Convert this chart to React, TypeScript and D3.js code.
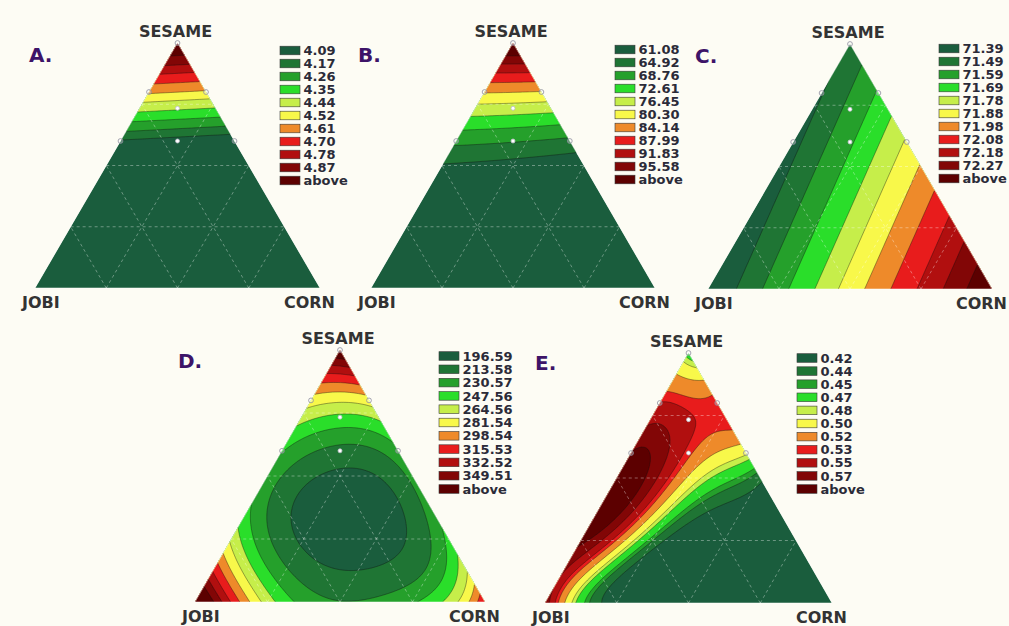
import React, { useMemo } from "react";
import * as d3 from "d3";

// band colours, lowest band first, last one is "above"
const bandColors = [
  "#1a5d3d", "#1f7534", "#25a02b", "#2ade2a", "#c6ee4a", "#f8f84a",
  "#ee8a2a", "#e81c1c", "#b10f0f", "#820606", "#5c0000",
];

const levelsA = [4.09, 4.17, 4.26, 4.35, 4.44, 4.52, 4.61, 4.7, 4.78, 4.87];
const levelsB = [61.08, 64.92, 68.76, 72.61, 76.45, 80.3, 84.14, 87.99, 91.83, 95.58];
const levelsC = [71.39, 71.49, 71.59, 71.69, 71.78, 71.88, 71.98, 72.08, 72.18, 72.27];
const levelsD = [196.59, 213.58, 230.57, 247.56, 264.56, 281.54, 298.54, 315.53, 332.52, 349.51];
const levelsE = [0.42, 0.44, 0.45, 0.47, 0.48, 0.5, 0.52, 0.53, 0.55, 0.57];

// readings: [jobi, corn, sesame, response]
const readingsA = [
  [0.396, 0, 0.604, 4.09], [0.194, 0.194, 0.612, 4.09], [0, 0.376, 0.624, 4.09],
  [0.24, 0, 0.76, 4.44], [0.1165, 0.1165, 0.767, 4.44], [0, 0.22, 0.78, 4.44],
  [0.0585, 0.0585, 0.883, 4.7], [0.0315, 0.0315, 0.937, 4.87],
];

const readingsB = [
  [0.49, 0, 0.51, 61.08], [0.4, 0, 0.6, 64.92], [0.352, 0, 0.648, 68.76], [0.31, 0, 0.69, 72.61],
  [0.265, 0, 0.735, 76.45], [0.215, 0, 0.785, 80.3], [0.165, 0, 0.835, 84.14], [0.115, 0, 0.885, 87.99],
  [0.075, 0, 0.925, 91.83], [0.04, 0, 0.96, 95.58],
  [0, 0.402, 0.598, 61.08], [0, 0.358, 0.642, 64.92], [0, 0.317, 0.683, 68.76], [0, 0.283, 0.717, 72.61],
  [0, 0.249, 0.751, 76.45], [0, 0.209, 0.791, 80.3], [0, 0.175, 0.825, 84.14], [0, 0.14, 0.86, 87.99],
  [0, 0.1, 0.9, 91.83], [0, 0.06, 0.94, 95.58], [0, 0, 1, 100],
  [0.222, 0.222, 0.556, 61.08], [0.1055, 0.1055, 0.789, 80.3],
  [1, 0, 0, 50], [0, 1, 0, 50], [0.5, 0.5, 0, 50], [0.7, 0, 0.3, 54], [0, 0.7, 0.3, 54],
  [0.35, 0.35, 0.3, 54], [0.55, 0, 0.45, 58.5], [0, 0.55, 0.45, 55], [0.275, 0.275, 0.45, 57],
];

const readingsC = [
  [0.906, 0.094, 0, 71.39], [0.535, 0.465, 0, 71.78], [0.082, 0.918, 0, 72.27],
  [0, 0.167, 0.833, 71.59], [0, 0.495, 0.505, 71.88], [0, 0.89, 0.11, 72.27],
  [0.09, 0.011, 0.9, 71.39],
];

const readingsD = [
  [1, 0, 0, 385], [0, 1, 0, 312], [0, 0, 1, 368],
  [0.3, 0.37, 0.33, 186], [0.36, 0.3, 0.34, 188], [0.25, 0.45, 0.3, 188],
  [0.494, 0.154, 0.352, 196.59], [0.22, 0.22, 0.56, 196.59], [0.104, 0.563, 0.333, 196.59], [0.402, 0.492, 0.106, 196.59],
  [0.221, 0.613, 0.166, 196.59], [0.353, 0.124, 0.523, 196.59], [0.084, 0.406, 0.51, 196.59], [0.537, 0.284, 0.179, 196.59],
  [0.558, 0.09, 0.352, 213.58], [0.187, 0.187, 0.626, 213.58], [0.057, 0.657, 0.286, 213.58], [0.446, 0.535, 0.019, 213.58],
  [0.159, 0.159, 0.682, 230.57], [0.1345, 0.1345, 0.731, 247.56], [0.1085, 0.1085, 0.783, 264.56],
  [0.082, 0.082, 0.836, 281.54], [0.064, 0.064, 0.872, 298.54], [0.0475, 0.0475, 0.905, 315.53],
  [0.0345, 0.0345, 0.931, 332.52], [0.018, 0.018, 0.964, 349.51],
  [0.927, 0, 0.073, 349.51], [0.894, 0, 0.106, 332.52], [0.875, 0, 0.125, 315.53], [0.848, 0, 0.152, 298.54],
  [0.822, 0, 0.178, 281.54], [0.775, 0, 0.225, 264.56], [0.723, 0, 0.277, 247.56], [0.55, 0, 0.45, 236],
  [0.28, 0, 0.72, 247.56], [0.23, 0, 0.77, 264.56], [0.174, 0, 0.826, 281.54], [0.135, 0, 0.865, 298.54],
  [0.09, 0, 0.91, 315.53], [0.06, 0, 0.94, 332.52], [0.036, 0, 0.964, 349.51],
  [0.937, 0.063, 0, 349.51], [0.902, 0.098, 0, 332.52], [0.874, 0.126, 0, 315.53], [0.845, 0.155, 0, 298.54],
  [0.816, 0.184, 0, 281.54], [0.77, 0.23, 0, 264.56], [0.724, 0.276, 0, 247.56], [0.672, 0.328, 0, 230.57],
  [0.5, 0.5, 0, 218],
  [0.19, 0.81, 0, 230.57], [0.15, 0.85, 0, 247.56], [0.103, 0.897, 0, 264.56], [0.06, 0.94, 0, 281.54],
  [0.029, 0.971, 0, 298.54],
  [0, 0.728, 0.272, 230.57], [0, 0.814, 0.186, 247.56], [0, 0.874, 0.126, 264.56], [0, 0.926, 0.074, 281.54],
  [0, 0.964, 0.036, 298.54], [0, 0.57, 0.43, 222],
  [0, 0.4, 0.6, 230.57], [0, 0.28, 0.72, 247.56], [0, 0.225, 0.775, 264.56], [0, 0.17, 0.83, 281.54],
];

const readingsE = [
  [1, 0, 0, 0.565], [0.96, 0.04, 0, 0.53], [0.925, 0.075, 0, 0.49], [0.88, 0.12, 0, 0.46],
  [0.83, 0.17, 0, 0.43], [0.786, 0.214, 0, 0.42], [0.6, 0.4, 0, 0.39], [0.3, 0.7, 0, 0.37], [0, 1, 0, 0.37],
  [0.8, 0, 0.2, 0.565], [0.715, 0.085, 0.2, 0.53], [0.675, 0.125, 0.2, 0.5], [0.628, 0.172, 0.2, 0.47],
  [0.588, 0.212, 0.2, 0.44], [0.559, 0.241, 0.2, 0.42], [0.3, 0.5, 0.2, 0.38], [0, 0.8, 0.2, 0.37],
  [0.65, 0.05, 0.3, 0.58], [0.5, 0.05, 0.45, 0.585], [0.35, 0.05, 0.6, 0.575],
  [0.6, 0, 0.4, 0.585], [0.505, 0.095, 0.4, 0.57], [0.447, 0.153, 0.4, 0.55], [0.419, 0.181, 0.4, 0.53],
  [0.378, 0.222, 0.4, 0.5], [0.332, 0.268, 0.4, 0.47], [0.286, 0.314, 0.4, 0.44], [0.251, 0.349, 0.4, 0.42],
  [0, 0.6, 0.4, 0.39],
  [0.4, 0, 0.6, 0.57], [0.3, 0.1, 0.6, 0.555], [0.2, 0.2, 0.6, 0.526], [0.14, 0.26, 0.6, 0.522],
  [0.08, 0.32, 0.6, 0.505], [0.03, 0.37, 0.6, 0.49], [0, 0.4, 0.6, 0.477],
  [0, 0.32, 0.68, 0.52], [0, 0.367, 0.633, 0.5], [0, 0.42, 0.58, 0.47], [0, 0.48, 0.52, 0.44], [0, 0.5, 0.5, 0.42],
  [0.133, 0.133, 0.734, 0.525], [0.07, 0.2, 0.73, 0.524], [0.22, 0.08, 0.7, 0.54],
  [0.25, 0, 0.75, 0.55], [0.2, 0, 0.8, 0.53], [0.1, 0.1, 0.8, 0.525], [0, 0.2, 0.8, 0.524],
  [0.1, 0, 0.9, 0.505], [0.05, 0.05, 0.9, 0.5], [0, 0.1, 0.9, 0.5],
  [0.025, 0.025, 0.95, 0.48], [0, 0, 1, 0.46],
];

// mixture design points drawn on every plot
const designPoints = [
  [0, 0, 1], [0.2, 0, 0.8], [0, 0.2, 0.8], [0.4, 0, 0.6], [0, 0.4, 0.6],
  [0.1333, 0.1333, 0.7334], [0.2, 0.2, 0.6],
];

const gridSteps = [0.25, 0.5, 0.75];

const panels = [
  { letter: "A.", levels: levelsA, readings: readingsA, degree: 1, xL: 35, xR: 320, yB: 288, yA: 43, lgX: 280, lgY: 50.5, pitch: 13, ltX: 29, ltY: 62 },
  { letter: "B.", levels: levelsB, readings: readingsB, degree: 3, xL: 371, xR: 655, yB: 288, yA: 43, lgX: 615, lgY: 49.5, pitch: 13, ltX: 358, ltY: 62 },
  { letter: "C.", levels: levelsC, readings: readingsC, degree: 1, xL: 708, xR: 992, yB: 289, yA: 44, lgX: 939, lgY: 48.5, pitch: 13, ltX: 695, ltY: 63 },
  { letter: "D.", levels: levelsD, readings: readingsD, degree: 5, xL: 195, xR: 485, yB: 602, yA: 350, lgX: 439, lgY: 356, pitch: 13.3, ltX: 178, ltY: 368 },
  { letter: "E.", levels: levelsE, readings: readingsE, degree: 5, xL: 545, xR: 832, yB: 603, yA: 353, lgX: 797, lgY: 358, pitch: 13.1, ltX: 535, ltY: 370 },
];

const monomials = (j, c, s, deg) => {
  const out = [];
  for (let a = deg; a >= 0; a--)
    for (let b = deg - a; b >= 0; b--) out.push(j ** a * c ** b * s ** (deg - a - b));
  return out;
};

const solve = (A, b) => {
  const n = b.length;
  const M = A.map((row, i) => [...row, b[i]]);
  for (let i = 0; i < n; i++) {
    let p = i;
    for (let r = i + 1; r < n; r++) if (Math.abs(M[r][i]) > Math.abs(M[p][i])) p = r;
    [M[i], M[p]] = [M[p], M[i]];
    for (let r = 0; r < n; r++) {
      if (r === i) continue;
      const f = M[r][i] / M[i][i];
      for (let k = i; k <= n; k++) M[r][k] -= f * M[i][k];
    }
  }
  return M.map((row, i) => row[n] / row[i]);
};

// least squares fit of a mixture polynomial to the readings
const fitModel = (readings, deg) => {
  const rows = readings.map(([j, c, s, v]) => {
    const t = j + c + s;
    return [j / t, c / t, s / t, v];
  });
  const mean = d3.mean(rows, (r) => r[3]);
  const X = rows.map((r) => monomials(r[0], r[1], r[2], deg));
  const p = X[0].length;
  const A = Array.from({ length: p }, () => new Array(p).fill(0));
  const b = new Array(p).fill(0);
  X.forEach((x, r) => {
    const y = rows[r][3] - mean;
    for (let i = 0; i < p; i++) {
      b[i] += x[i] * y;
      for (let k = 0; k < p; k++) A[i][k] += x[i] * x[k];
    }
  });
  for (let i = 0; i < p; i++) A[i][i] += 1e-6;
  const beta = solve(A, b);
  return (j, c, s) => mean + d3.sum(monomials(j, c, s, deg), (m, i) => m * beta[i]);
};

const N = 121;
const font = "'DejaVu Sans', Verdana, sans-serif";

const Ternary = ({ cfg, id }) => {
  const { xL, xR, yB, yA, levels } = cfg;
  const W = xR - xL;
  const H = yB - yA;
  const proj = (j, c, s) => [xL + W * (c + s / 2), yB - H * s];

  const bands = useMemo(() => {
    const model = fitModel(cfg.readings, cfg.degree);
    const values = new Array(N * N);
    for (let k = 0; k < N; k++)
      for (let i = 0; i < N; i++) {
        let c = i / (N - 1);
        let s = k / (N - 1);
        if (c + s > 1) {
          const e = (c + s - 1) / 2;
          c -= e;
          s -= e;
        }
        values[k * N + i] = model(1 - c - s, c, s);
      }
    const contours = d3.contours().size([N, N]).thresholds(levels)(values);
    return contours.map((mp) =>
      mp.coordinates
        .map((poly) =>
          poly
            .map(
              (ring) =>
                "M" +
                ring
                  .map(([px, py]) => {
                    const c = (px - 0.5) / (N - 1);
                    const s = (py - 0.5) / (N - 1);
                    const [x, y] = proj(1 - c - s, c, s);
                    return `${x.toFixed(2)},${y.toFixed(2)}`;
                  })
                  .join("L") +
                "Z"
            )
            .join("")
        )
        .join("")
    );
  }, [cfg]);

  const tri = [proj(1, 0, 0), proj(0, 1, 0), proj(0, 0, 1)];
  const triPts = tri.map((p) => p.join(",")).join(" ");
  const gridLines = gridSteps.flatMap((k) => [
    [proj(1 - k, 0, k), proj(0, 1 - k, k)],
    [proj(1 - k, k, 0), proj(0, k, 1 - k)],
    [proj(k, 1 - k, 0), proj(k, 0, 1 - k)],
  ]);
  const ax = (xL + xR) / 2;

  return (
    <g>
      <defs>
        <clipPath id={`clip-${id}`}>
          <polygon points={triPts} />
        </clipPath>
      </defs>
      <g clipPath={`url(#clip-${id})`}>
        <polygon points={triPts} fill={bandColors[0]} />
        {bands.map((d, i) => (
          <path key={i} d={d} fill={bandColors[i + 1]} fillRule="evenodd"
            stroke="rgba(15,15,15,0.55)" strokeWidth={0.7} />
        ))}
        {gridLines.map(([a, b], i) => (
          <line key={i} x1={a[0]} y1={a[1]} x2={b[0]} y2={b[1]}
            stroke="rgba(255,255,255,0.45)" strokeWidth={0.8} strokeDasharray="3 3" />
        ))}
      </g>
      <polygon points={triPts} fill="none" stroke="rgba(255,255,255,0.5)" strokeWidth={1} />
      {designPoints.map(([j, c, s], i) => {
        const [x, y] = proj(j, c, s);
        const inner = j > 0 && c > 0;
        return (
          <circle key={i} cx={x} cy={y} r={inner ? 2 : 2.4}
            fill={inner ? "#ffffff" : "rgba(255,255,255,0.3)"}
            stroke={inner ? "#bbbbc8" : "#8e8e9e"} strokeWidth={0.8} />
        );
      })}
      <text x={ax - 2} y={yA - 6} textAnchor="middle" fontFamily={font} fontWeight="bold"
        fontSize={16} fill="#333333">SESAME</text>
      <text x={xL - 13} y={yB + 20} textAnchor="start" fontFamily={font} fontWeight="bold"
        fontSize={16} fill="#333333">JOBI</text>
      <text x={xR + 15} y={yB + 20} textAnchor="end" fontFamily={font} fontWeight="bold"
        fontSize={16} fill="#333333">CORN</text>
      <text x={cfg.ltX} y={cfg.ltY} fontFamily={font} fontWeight="bold" fontSize={20}
        fill="#3d1468">{cfg.letter}</text>
      {bandColors.map((col, i) => (
        <g key={i} transform={`translate(${cfg.lgX},${cfg.lgY + i * cfg.pitch})`}>
          <rect x={0} y={-4.3} width={20} height={8.6} fill={col} stroke="#3a3a3a" strokeWidth={0.6} />
          <text x={23.5} y={0} dy="0.36em" fontFamily={font} fontWeight="bold" fontSize={13}
            fill="#2b2b38">{i < levels.length ? levels[i].toFixed(2) : "above"}</text>
        </g>
      ))}
    </g>
  );
};

export default function App() {
  return (
    <div style={{ position: "absolute", left: 0, top: 0 }}>
      <svg width={1009} height={626} style={{ display: "block" }}>
        <rect width={1009} height={626} fill="#fdfcf4" />
        {panels.map((p, i) => (
          <Ternary key={i} cfg={p} id={i} />
        ))}
      </svg>
    </div>
  );
}
